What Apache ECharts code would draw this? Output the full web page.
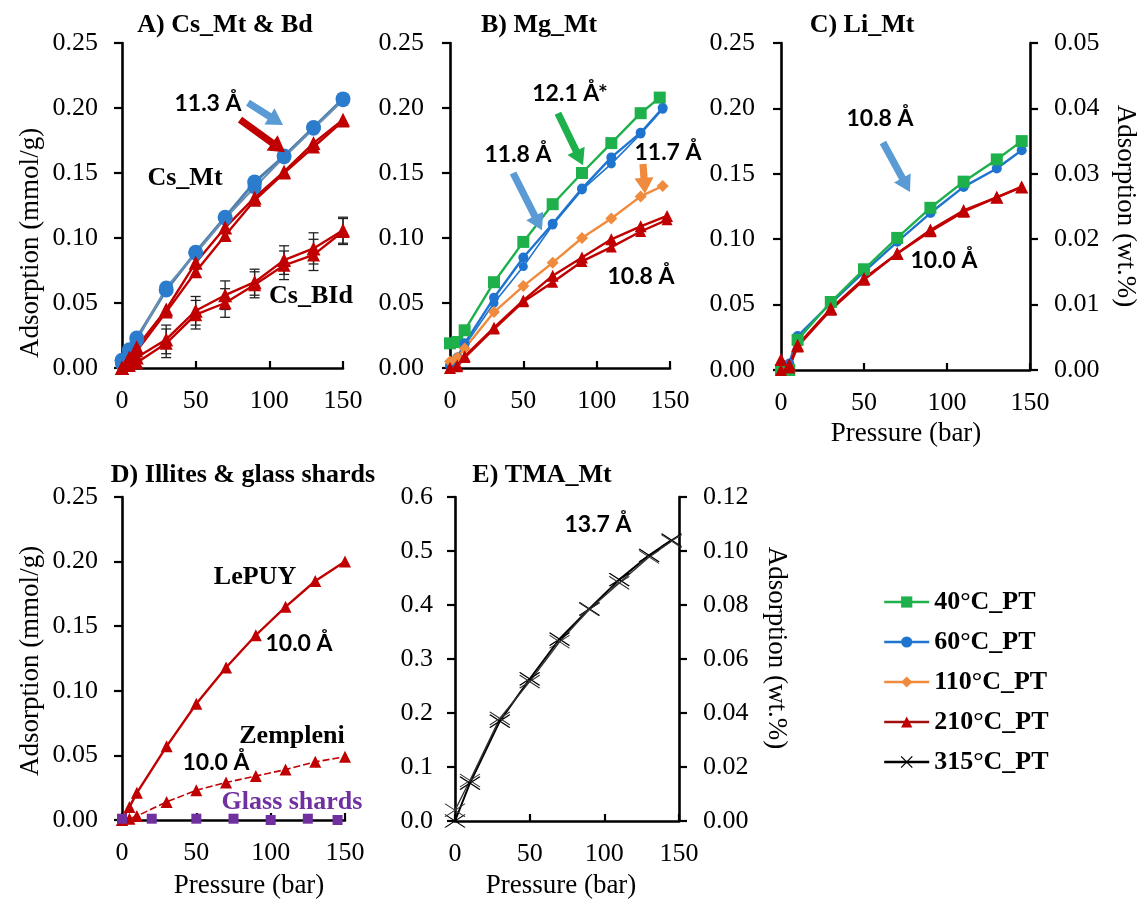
<!DOCTYPE html>
<html>
<head>
<meta charset="utf-8">
<script src="https://cdn.jsdelivr.net/npm/echarts@6/dist/echarts.min.js"></script>
<style>html,body{margin:0;padding:0;background:#fff}#c{width:1139px;height:900px}</style>
</head>
<body>
<div id="c"></div>
<script>
// ---------- DATA ----------
// Panel A (Cs_Mt & Bd)
const pA = [0, 5, 10, 30, 50, 70, 90, 110, 130, 150];
const A_Mt60_1 = [0.006, 0.014, 0.023, 0.060, 0.089, 0.116, 0.143, 0.163, 0.185, 0.207];
const A_Mt60_2 = [0.003, 0.012, 0.021, 0.062, 0.088, 0.115, 0.139, 0.162, 0.184, 0.206];
const A_Mt210_1 = [0.000, 0.008, 0.016, 0.045, 0.081, 0.108, 0.131, 0.151, 0.173, 0.191];
const A_Mt210_2 = [0.000, 0.006, 0.013, 0.043, 0.074, 0.102, 0.129, 0.150, 0.170, 0.190];
const A_Bd210_1 = [0.000, 0.004, 0.008, 0.022, 0.044, 0.056, 0.066, 0.083, 0.092, 0.106];
const A_Bd210_2 = [0.000, 0.002, 0.004, 0.019, 0.041, 0.050, 0.064, 0.079, 0.087, 0.105];
const A_BdErr = [0.000, 0.002, 0.003, 0.011, 0.011, 0.011, 0.010, 0.011, 0.012, 0.010];
// Panel B (Mg_Mt)
const pB40 = [0, 5, 10, 30, 50, 70, 90, 110, 130, 143];
const pB = [0, 5, 10, 30, 50, 70, 90, 110, 130, 145];
const pB210 = [0, 5, 10, 30, 50, 70, 90, 110, 130, 148];
const B_40 = [0.019, 0.020, 0.029, 0.066, 0.097, 0.126, 0.150, 0.173, 0.196, 0.208];
const B_60_1 = [0.002, 0.008, 0.019, 0.054, 0.085, 0.111, 0.138, 0.162, 0.181, 0.200];
const B_60_2 = [0.001, 0.006, 0.017, 0.050, 0.078, 0.110, 0.137, 0.157, 0.180, 0.199];
const B_110 = [0.005, 0.008, 0.015, 0.043, 0.063, 0.081, 0.100, 0.115, 0.132, 0.140];
const B_210_1 = [0.000, 0.002, 0.009, 0.031, 0.052, 0.071, 0.085, 0.099, 0.109, 0.117];
const B_210_2 = [0.000, 0.001, 0.008, 0.030, 0.051, 0.066, 0.082, 0.093, 0.105, 0.114];
// Panel C (Li_Mt)
const pC = [0, 5, 10, 30, 50, 70, 90, 110, 130, 145];
const C_40 = [0.000, 0.000, 0.023, 0.052, 0.077, 0.101, 0.124, 0.144, 0.161, 0.175];
const C_60 = [0.004, 0.005, 0.026, 0.051, 0.075, 0.098, 0.120, 0.140, 0.154, 0.168];
const C_210_1 = [0.008, 0.004, 0.019, 0.047, 0.070, 0.089, 0.107, 0.122, 0.132, 0.140];
const C_210_2 = [0.000, 0.002, 0.018, 0.046, 0.069, 0.089, 0.106, 0.121, 0.132, 0.140];
// Panel D (Illites & glass shards)
const pD = [0, 5, 10, 30, 50, 70, 90, 110, 130, 150];
const D_LePUY = [0.000, 0.010, 0.021, 0.057, 0.090, 0.118, 0.143, 0.165, 0.185, 0.200];
const D_Zempleni = [0.000, 0.001, 0.003, 0.014, 0.023, 0.029, 0.034, 0.039, 0.045, 0.049];
const pGlass = [0, 20, 50, 75, 100, 125, 145];
const D_Glass = [0.001, 0.001, 0.001, 0.001, 0.000, 0.001, 0.000];
// Panel E (TMA_Mt)
const pE = [0, 10, 30, 50, 70, 90, 110, 130, 145];
const E_315_1 = [0.000, 0.070, 0.185, 0.263, 0.337, 0.393, 0.447, 0.492, 0.520];
const E_315_2 = [0.020, 0.075, 0.190, 0.258, 0.332, 0.392, 0.441, 0.489, 0.518];
// Axis tick settings
const xTicks = {min: 0, max: 150, interval: 50};
const yTicks = {min: 0, max: 0.25, interval: 0.05};
const yTicksE = {min: 0, max: 0.6, interval: 0.1};
const yRightC = {min: 0, max: 0.05, interval: 0.01};
const yRightE = {min: 0, max: 0.12, interval: 0.02};
const legendNames = ['40°C_PT', '60°C_PT', '110°C_PT', '210°C_PT', '315°C_PT'];

// ---------- STYLE ----------
const GREEN = '#1db04b', BLUE = '#1f74cf', ORANGE = '#f08a3c', RED = '#c00000', BLACK = '#000';
const LIGHTBLUE = '#5b9bd5';
const SERIF = 'Liberation Serif';
const CROSS = 'path://M0,0L22,14M22,0L0,14';

// annotation arrows (data coordinates of tail and tip, per panel)
const arrowDefs = [
  {grid: 0, color: LIGHTBLUE, from: [85.5, 0.204], to: [109.3, 0.187]},
  {grid: 0, color: RED, from: [80.1, 0.191], to: [110.7, 0.166]},
  {grid: 1, color: GREEN, from: [73.6, 0.196], to: [90.7, 0.156]},
  {grid: 1, color: LIGHTBLUE, from: [43, 0.150], to: [62.7, 0.106]},
  {grid: 1, color: ORANGE, from: [131.6, 0.157], to: [133, 0.134]},
  {grid: 2, color: LIGHTBLUE, from: [61.4, 0.174], to: [77.7, 0.136]}
];

const zip = (xs, ys) => xs.map((x, i) => [x, ys[i]]);

function line(name, idx, xs, ys, color, symbol, size, extra) {
  const s = {
    type: 'line', name, xAxisIndex: idx, yAxisIndex: idx,
    data: zip(xs, ys), symbol, symbolSize: size, showAllSymbol: true,
    lineStyle: {color, width: 2.4}, itemStyle: {color},
    emphasis: {disabled: true}, animation: false, clip: false, z: 3
  };
  if (extra) Object.assign(s, extra);
  return s;
}

function errBars(idx, xs, ys, errs) {
  return {
    type: 'custom', xAxisIndex: idx, yAxisIndex: idx, animation: false, silent: true, z: 2,
    data: xs.map((x, i) => [x, ys[i] - errs[i], ys[i] + errs[i]]),
    encode: {x: 0, y: [1, 2]},
    renderItem: (params, api) => {
      const x = api.value(0);
      const a = api.coord([x, api.value(1)]), b = api.coord([x, api.value(2)]);
      const w = 5, st = {stroke: '#222', lineWidth: 1.3};
      return {type: 'group', children: [
        {type: 'line', shape: {x1: a[0], y1: a[1], x2: b[0], y2: b[1]}, style: st},
        {type: 'line', shape: {x1: a[0] - w, y1: a[1], x2: a[0] + w, y2: a[1]}, style: st},
        {type: 'line', shape: {x1: b[0] - w, y1: b[1], x2: b[0] + w, y2: b[1]}, style: st}
      ]};
    }
  };
}

const axisLine = {show: true, onZero: false, lineStyle: {color: '#000', width: 2.6}};
const labelFont = {fontFamily: SERIF, fontSize: 26, color: '#000'};

function xAx(idx) {
  return Object.assign({
    type: 'value', gridIndex: idx, axisLine,
    axisTick: {show: true, inside: true, length: 7, lineStyle: {color: '#000', width: 2.2}},
    axisLabel: Object.assign({margin: 20}, labelFont), splitLine: {show: false}
  }, xTicks);
}
function yAx(idx, ticks, dec, margin, pos) {
  return Object.assign({
    type: 'value', gridIndex: idx, position: pos || 'left', axisLine,
    axisTick: {show: true, inside: false, length: 8, lineStyle: {color: '#000', width: 2.2}},
    axisLabel: Object.assign({margin, formatter: v => v.toFixed(dec)}, labelFont),
    splitLine: {show: false}
  }, ticks);
}

const series = [
  // A
  errBars(0, pA, A_Bd210_1, A_BdErr),
  errBars(0, pA, A_Bd210_2, A_BdErr),
  line('60°C_PT', 0, pA, A_Mt60_1, '#2b7ccc', 'circle', 15, {lineStyle: {color: '#4f7fae', width: 3}}),
  line('60°C_PT', 0, pA, A_Mt60_2, '#2b7ccc', 'circle', 14, {lineStyle: {color: '#6b8fb3', width: 2}}),
  line('210°C_PT', 0, pA, A_Mt210_1, RED, 'triangle', 14),
  line('210°C_PT', 0, pA, A_Mt210_2, RED, 'triangle', 13),
  line('210°C_PT', 0, pA, A_Bd210_1, RED, 'triangle', 14),
  line('210°C_PT', 0, pA, A_Bd210_2, RED, 'triangle', 13),
  // B
  line('40°C_PT', 1, pB40, B_40, GREEN, 'rect', 12),
  line('60°C_PT', 1, pB, B_60_1, BLUE, 'circle', 10),
  line('60°C_PT', 1, pB, B_60_2, BLUE, 'circle', 9, {lineStyle: {color: BLUE, width: 1.6}}),
  line('110°C_PT', 1, pB, B_110, ORANGE, 'diamond', 12),
  line('210°C_PT', 1, pB210, B_210_1, RED, 'triangle', 12),
  line('210°C_PT', 1, pB210, B_210_2, RED, 'triangle', 11),
  // C
  line('60°C_PT', 2, pC, C_60, BLUE, 'circle', 10),
  line('40°C_PT', 2, pC, C_40, GREEN, 'rect', 12),
  line('210°C_PT', 2, pC, C_210_1, RED, 'triangle', 13),
  line('210°C_PT', 2, pC, C_210_2, RED, 'triangle', 12),
  // D
  line('210°C_PT', 3, pD, D_LePUY, RED, 'triangle', 12),
  line('210°C_PT', 3, pD, D_Zempleni, RED, 'triangle', 12, {lineStyle: {color: RED, width: 1.6, type: [7, 3]}}),
  line('Glass shards', 3, pGlass, D_Glass, '#7030a0', 'rect', 10, {lineStyle: {width: 0, opacity: 0}}),
  // E
  line('315°C_PT', 4, pE, E_315_1, BLACK, CROSS, [20, 13], {lineStyle: {color: '#000', width: 2}, itemStyle: {color: '#000', borderColor: '#000', borderWidth: 1.3}}),
  line('315°C_PT', 4, pE, E_315_2, BLACK, CROSS, [20, 13], {lineStyle: {color: '#333', width: 1.4}, itemStyle: {color: '#000', borderColor: '#333', borderWidth: 1.1}})
];

const T = (text, x, y, font, fill, rotation) => ({
  type: 'text', x, y, rotation: rotation || 0, silent: true, z: 100,
  style: {text, font, fill: fill || '#000', align: 'center', verticalAlign: 'middle'}
});
const titleF = 'bold 26px "Liberation Serif"';
const nameF = '27px "Liberation Serif"';
const annF = 'bold 23px Lato';
const lblF = 'bold 26px "Liberation Serif"';

const graphic = [
  T('A) Cs_Mt & Bd', 225, 25, titleF),
  T('B) Mg_Mt', 539, 25, titleF),
  T('C) Li_Mt', 862, 25, titleF),
  T('D) Illites & glass shards', 243, 475, titleF),
  T('E) TMA_Mt', 542, 475, titleF),
  T('Adsorption (mmol/g)', 31, 243, nameF, '#000', Math.PI / 2),
  T('Adsorption (mmol/g)', 31, 661, nameF, '#000', Math.PI / 2),
  T('Adsorption (wt.%)', 1125, 206, nameF, '#000', -Math.PI / 2),
  T('Adsorption (wt.%)', 776, 648, nameF, '#000', -Math.PI / 2),
  T('Pressure (bar)', 906, 434, nameF),
  T('Pressure (bar)', 249, 886, nameF),
  T('Pressure (bar)', 561, 886, nameF),
  T('11.3 Å', 208, 104, annF),
  T('12.1 Å*', 570, 94, annF),
  T('11.8 Å', 518, 155, annF),
  T('11.7 Å', 668, 153, annF),
  T('10.8 Å', 641, 277, annF),
  T('10.8 Å', 880, 119, annF),
  T('10.0 Å', 944, 261, annF),
  T('10.0 Å', 299, 644, annF),
  T('10.0 Å', 216, 763, annF),
  T('13.7 Å', 598, 525, annF),
  T('Cs_Mt', 185, 178, lblF),
  T('Cs_BId', 311, 296, lblF),
  T('LePUY', 255, 577, lblF),
  T('Zempleni', 292, 736, lblF),
  T('Glass shards', 292, 802, lblF, '#7030a0')
];

const option = {
  backgroundColor: '#fff',
  animation: false,
  grid: [
    {left: 122, top: 43, width: 221, height: 325},
    {left: 450, top: 43, width: 220, height: 325},
    {left: 781, top: 43, width: 249, height: 327},
    {left: 122, top: 497, width: 223, height: 323},
    {left: 455, top: 497, width: 224, height: 324}
  ],
  xAxis: [xAx(0), xAx(1), xAx(2), xAx(3), xAx(4)],
  yAxis: [
    yAx(0, yTicks, 2, 24), yAx(1, yTicks, 2, 26), yAx(2, yTicks, 2, 26),
    yAx(3, yTicks, 2, 24), yAx(4, yTicksE, 1, 22),
    yAx(2, yRightC, 2, 24, 'right'), yAx(4, yRightE, 2, 24, 'right')
  ],
  legend: {
    orient: 'vertical', left: 883, top: 589, padding: 0, itemWidth: 45, itemHeight: 14, itemGap: 14,
    textStyle: {fontFamily: SERIF, fontWeight: 'bold', fontSize: 26, color: '#000', lineHeight: 26},
    selectedMode: false,
    data: [
      {name: '40°C_PT', itemStyle: {color: GREEN}, lineStyle: {color: GREEN, width: 2.4}},
      {name: '60°C_PT', itemStyle: {color: BLUE}, lineStyle: {color: BLUE, width: 2.4}},
      {name: '110°C_PT', itemStyle: {color: ORANGE}, lineStyle: {color: ORANGE, width: 2.4}},
      {name: '210°C_PT', itemStyle: {color: RED}, lineStyle: {color: '#a01010', width: 2.4}},
      {name: '315°C_PT', itemStyle: {color: '#000', borderColor: '#000', borderWidth: 1.3}, lineStyle: {color: '#000', width: 2.4}}
    ]
  },
  graphic,
  series
};

const chart = echarts.init(document.getElementById('c'), null, {renderer: 'canvas'});
chart.setOption(option);

// block arrows, placed through the axes' own scales
function blockArrow(def) {
  const a = chart.convertToPixel({gridIndex: def.grid}, def.from);
  const b = chart.convertToPixel({gridIndex: def.grid}, def.to);
  const dx = b[0] - a[0], dy = b[1] - a[1], L = Math.hypot(dx, dy);
  const ux = dx / L, uy = dy / L, nx = -uy, ny = ux;
  const hw = 3.6, HW = 9.5, HL = Math.min(16, L * 0.6);
  const bx = b[0] - ux * HL, by = b[1] - uy * HL;
  const pts = [
    [a[0] + nx * hw, a[1] + ny * hw], [bx + nx * hw, by + ny * hw], [bx + nx * HW, by + ny * HW],
    [b[0], b[1]], [bx - nx * HW, by - ny * HW], [bx - nx * hw, by - ny * hw], [a[0] - nx * hw, a[1] - ny * hw]
  ];
  return {type: 'polygon', silent: true, z: 90, shape: {points: pts}, style: {fill: def.color}};
}
chart.setOption({graphic: graphic.concat(arrowDefs.map(blockArrow))});
</script>
</body>
</html>
